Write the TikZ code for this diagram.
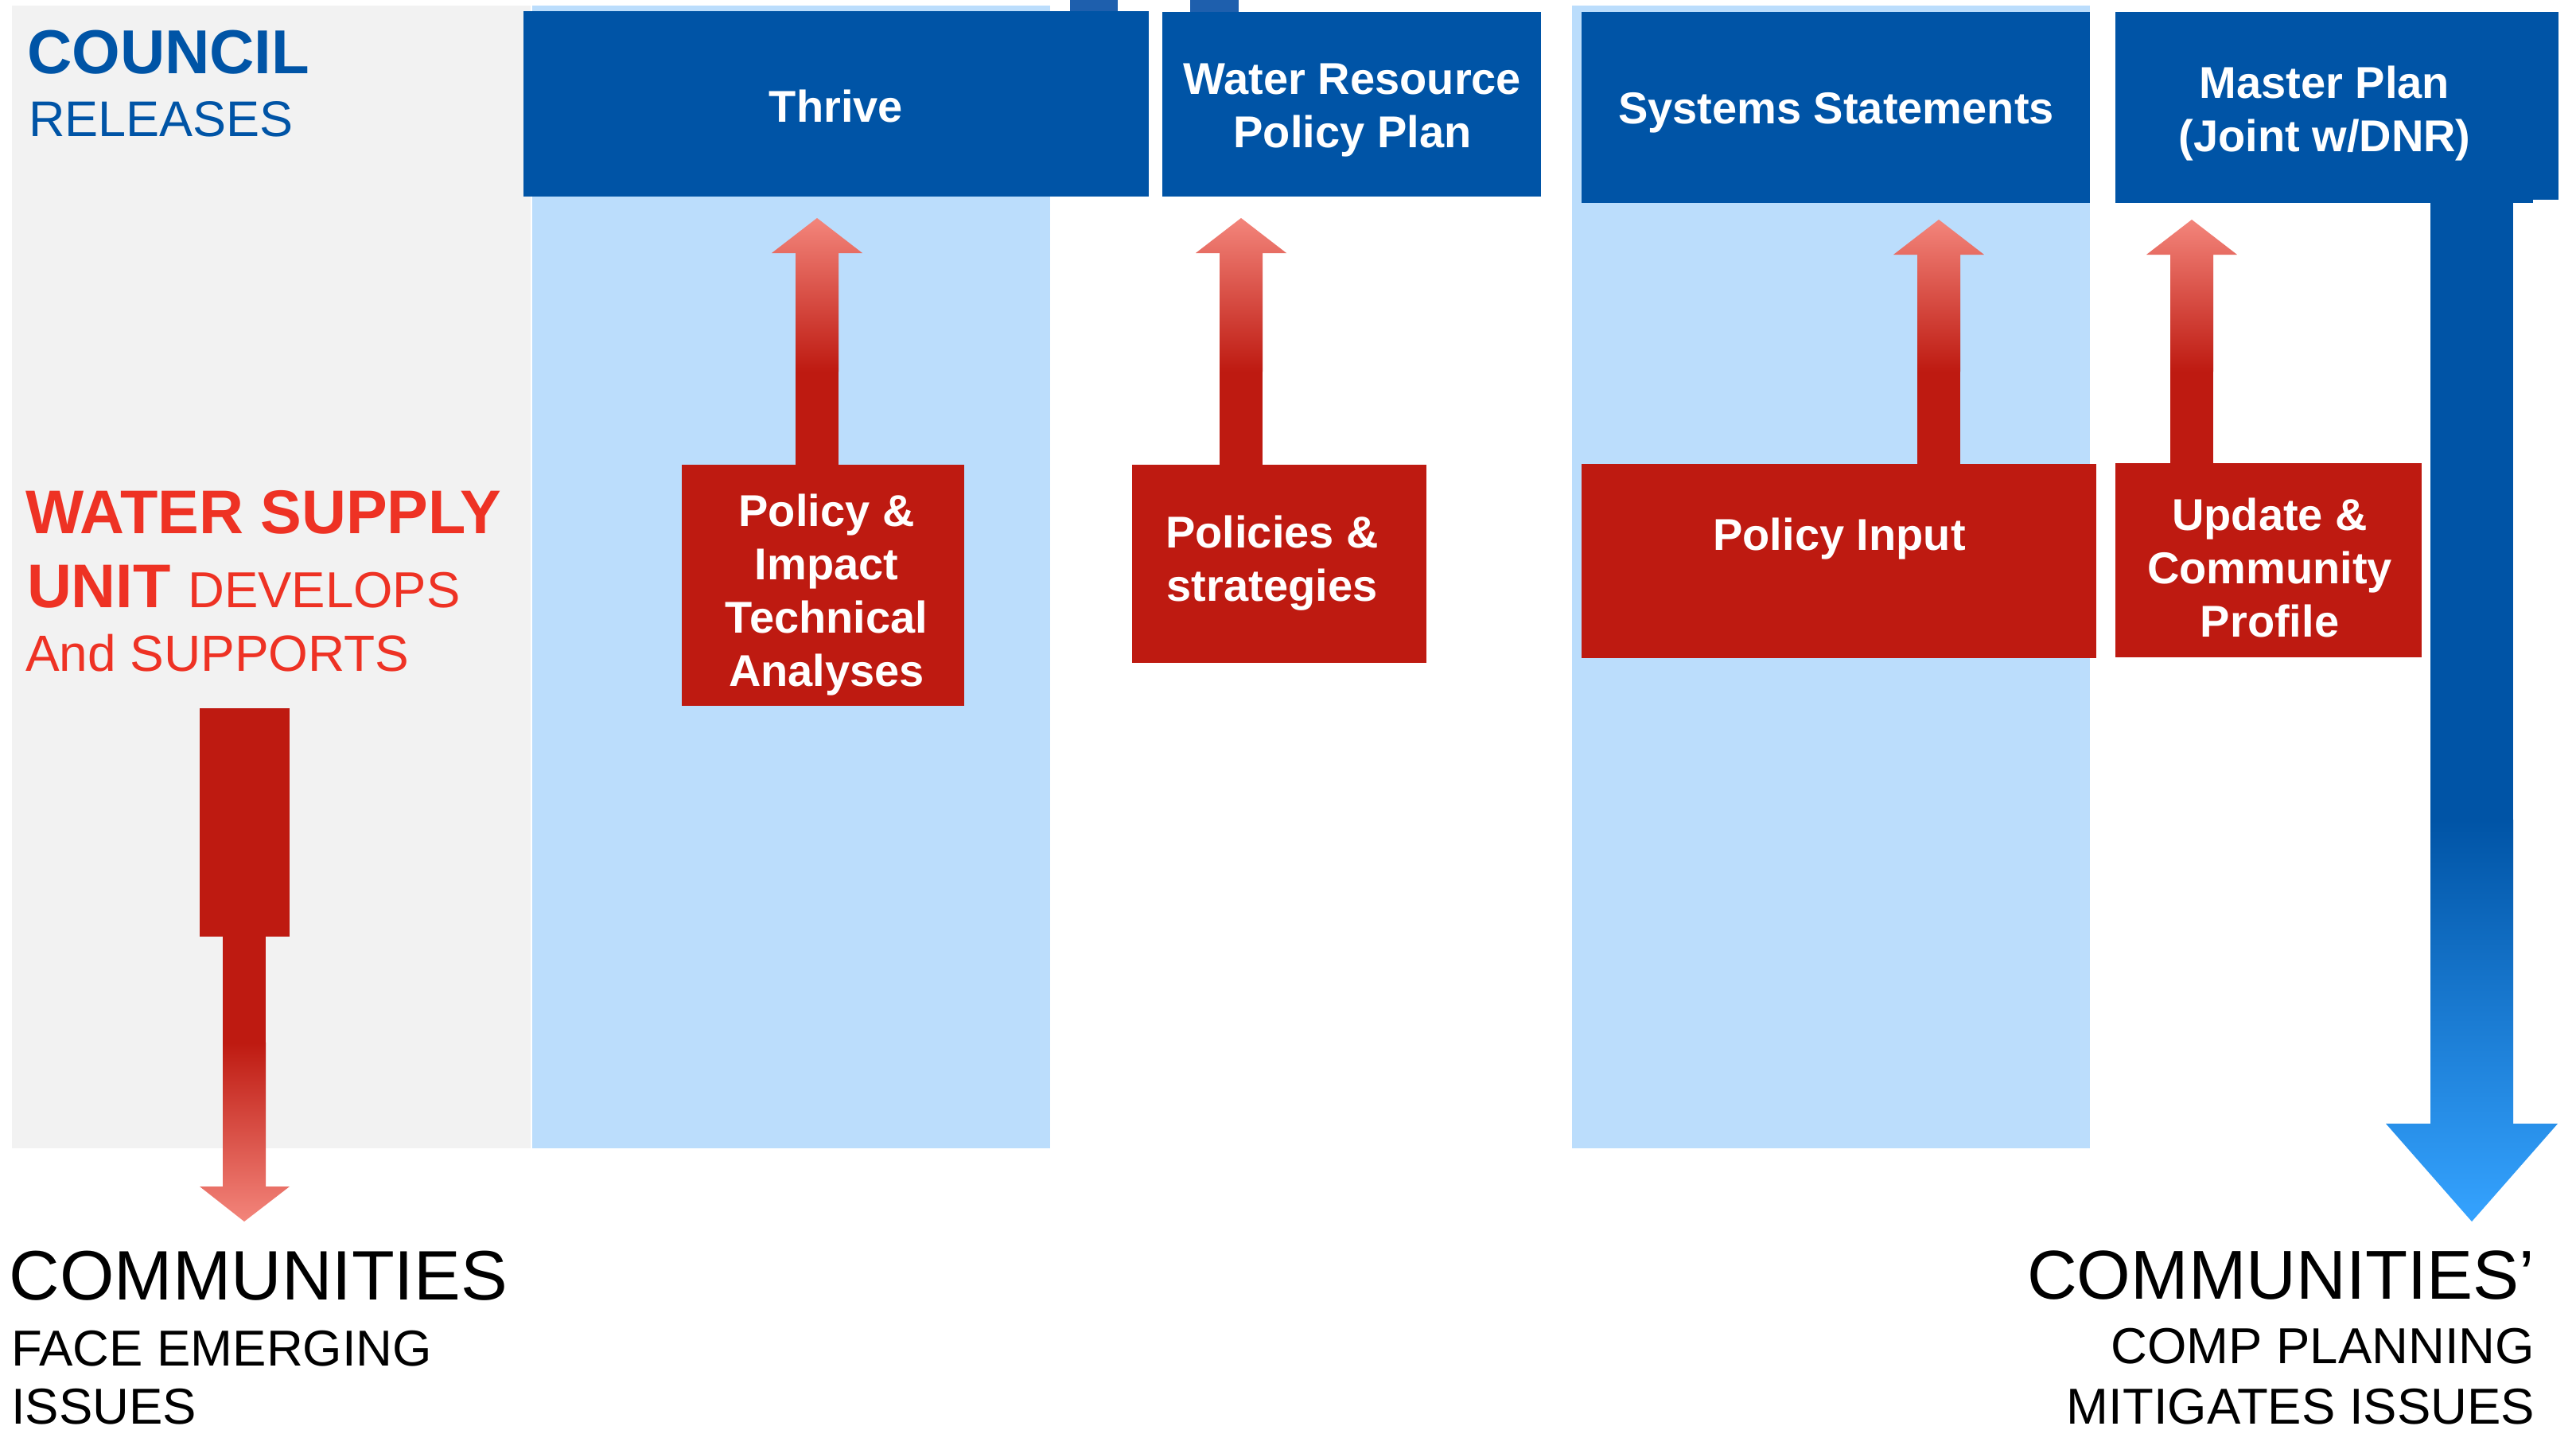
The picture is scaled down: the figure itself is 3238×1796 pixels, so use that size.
\documentclass[tikz,border=0pt]{standalone}
\usepackage{fontspec}
\setmainfont{Liberation Sans}
\definecolor{cblue}{RGB}{0,84,166}
\definecolor{cbluelight}{RGB}{53,163,255}
\definecolor{cred}{RGB}{190,26,17}
\definecolor{credlight}{RGB}{243,133,123}
\definecolor{ctext}{RGB}{238,50,36}
\definecolor{cpale}{RGB}{187,221,252}
\definecolor{cgray}{RGB}{242,242,242}
\definecolor{ctab}{RGB}{30,95,173}
\tikzset{
  bluebox/.style={fill=cblue, draw=none, inner sep=0pt, outer sep=0pt, anchor=north west},
  redbox/.style={fill=cred, draw=none, inner sep=0pt, outer sep=0pt, anchor=north west},
  boxtext/.style={text=white, font=\bfseries\fontsize{56}{67}\selectfont, align=center, inner sep=0pt, anchor=base},
  sidetext/.style={inner sep=0pt, outer sep=0pt, anchor=base west},
  sidetextr/.style={inner sep=0pt, outer sep=0pt, anchor=base east},
}
\newcommand\redup[3]{%
  \fill[cred] ({#1-27},{#3+2}) rectangle ({#1+27},465);
  \shade[top color=credlight, bottom color=cred]
    ({#1-27},467) -- ({#1-27},{#2+44}) -- ({#1-57},{#2+44}) -- (#1,#2)
    -- ({#1+57},{#2+44}) -- ({#1+27},{#2+44}) -- ({#1+27},467) -- cycle;
}
\begin{document}
\begin{tikzpicture}[x=1pt,y=-1pt]
\useasboundingbox (0,0) rectangle (3238,1796);
\fill[white] (0,0) rectangle (3238,1796);
% panels
\fill[cgray] (15,7) rectangle (667,1443);
\fill[cpale] (669,7) rectangle (1320,1443);
\fill[cpale] (1976,7) rectangle (2627,1443);
% small tabs at top
\fill[ctab] (1345,0) rectangle (1405,15);
\fill[ctab] (1496,0) rectangle (1557,15);
% blue boxes
\node[bluebox, minimum width=786pt, minimum height=233pt] (thrive) at (658,14) {};
\node[bluebox, minimum width=476pt, minimum height=232pt] (wrpp) at (1461,15) {};
\node[bluebox, minimum width=639pt, minimum height=240pt] (sys) at (1988,15) {};
\fill[cblue] (3100,15) rectangle (3216,251);
\node[bluebox, minimum width=525pt, minimum height=240pt] (master) at (2659,15) {};
% red up arrows
\redup{1027}{274}{584}
\redup{1560}{274}{584}
\redup{2437}{276}{583}
\redup{2755}{276}{582}
% red boxes
\node[redbox, minimum width=355pt, minimum height=303pt] (pia) at (857,584) {};
\node[redbox, minimum width=370pt, minimum height=249pt] (pols) at (1423,584) {};
\node[redbox, minimum width=647pt, minimum height=244pt] (pin) at (1988,583) {};
\node[redbox, minimum width=385pt, minimum height=244pt] (upd) at (2659,582) {};
% left red arrow
\node[redbox, minimum width=113pt, minimum height=287pt] (wsbox) at (251,890) {};
\fill[cred] (280,1175) rectangle (334,1312);
\coordinate (ltip) at (307,1535);
\shade[top color=cred, bottom color=credlight]
  (280,1310) -- (280,1491) -- (251,1491) -- (ltip) -- (364,1491) -- (334,1491) -- (334,1310) -- cycle;
% blue down arrow
\fill[cblue] (3055,249) rectangle (3159,1032);
\coordinate (rtip) at (3107,1535);
\shade[top color=cblue, bottom color=cbluelight]
  (3055,1030) -- (3055,1412) -- (2999,1412) -- (rtip) -- (3215,1412) -- (3159,1412) -- (3159,1030) -- cycle;
% box texts (base anchor = baseline of last line)
\node[boxtext] (tthrive) at (1051,153) {Thrive};
\node[boxtext] (twrpp) at (1700,185) {Water Resource\\Policy Plan};
\node[boxtext] (tsys) at (2308,155) {Systems Statements};
\node[boxtext] (tmaster) at (2922,190) {Master Plan\\(Joint w/DNR)};
\node[boxtext] (tpia) at (1039,862) {Policy \&\\Impact\\Technical\\Analyses};
\node[boxtext] (tpols) at (1599,755) {Policies \&\\strategies};
\node[boxtext] (tpin) at (2312,691) {Policy Input};
\node[boxtext] (tupd) at (2853,800) {Update \&\\Community\\Profile};
% side texts
\node[sidetext, text=cblue, font=\bfseries\fontsize{78}{90}\selectfont] (council) at (34,92) {COUNCIL};
\node[sidetext, text=cblue, font=\fontsize{63}{75}\selectfont] (releases) at (36,171) {RELEASES};
\node[sidetext, text=ctext, font=\bfseries\fontsize{77.5}{90}\selectfont] (ws1) at (32,670) {WATER SUPPLY};
\node[sidetext, text=ctext] (ws2) at (34,763) {\bfseries\fontsize{77.5}{90}\selectfont UNIT \mdseries\fontsize{63.5}{75}\selectfont DEVELOPS};
\node[sidetext, text=ctext, font=\fontsize{64}{75}\selectfont] (ws3) at (32,843) {And SUPPORTS};
\node[sidetext, font=\fontsize{88}{100}\selectfont] (comm1) at (12,1633) {COMMUNITIES};
\node[sidetext, font=\fontsize{63.5}{75}\selectfont] (comm2) at (14,1716) {FACE EMERGING};
\node[sidetext, font=\fontsize{63.5}{75}\selectfont] (comm3) at (14,1789) {ISSUES};
\node[sidetextr, font=\fontsize{87}{100}\selectfont] (rc1) at (3186,1632) {COMMUNITIES’};
\node[sidetextr, font=\fontsize{63.5}{75}\selectfont] (rc2) at (3186,1713) {COMP PLANNING};
\node[sidetextr, font=\fontsize{63.5}{75}\selectfont] (rc3) at (3186,1789) {MITIGATES ISSUES};
\end{tikzpicture}
\end{document}
